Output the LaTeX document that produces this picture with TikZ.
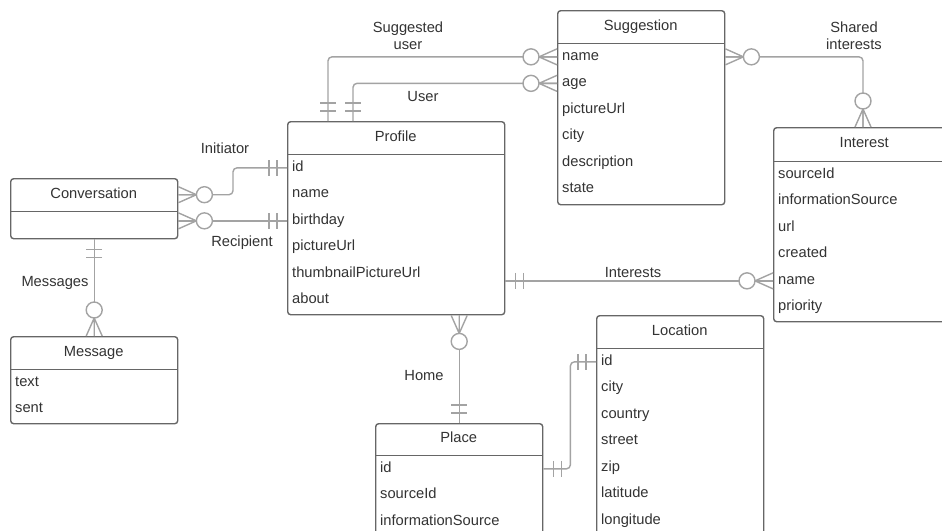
\documentclass[tikz,border=0pt]{standalone}
\usepackage{fontspec}
\setmainfont{Liberation Sans}
\usetikzlibrary{calc}
\definecolor{boxgray}{HTML}{666666}
\definecolor{linegray}{HTML}{A3A3A3}
\definecolor{txt}{HTML}{333333}
\newcommand\efont{\fontsize{14.7pt}{17.5pt}\selectfont}
\tikzset{
 ebox/.style={draw=boxgray, line width=1.4pt, rounded corners=3pt, fill=white, inner sep=0pt},
 eline/.style={draw=boxgray, line width=1.4pt},
 etitle/.style={inner xsep=5pt, inner ysep=0pt, align=center, text=txt, font=\efont, text height=10.5pt, text depth=3.5pt},
 eattr/.style={inner xsep=5pt, inner ysep=0pt, align=left, text=txt, font=\efont, text height=10.5pt, text depth=3.5pt, minimum height=26.5pt},
 conn/.style={draw=linegray, line width=1.4pt, rounded corners=4pt},
 lbl/.style={inner sep=0pt, text=txt, font=\efont, align=center},
}
\newcommand\entity[7]{%
  \pgfmathsetlengthmacro\etw{#3pt-10pt}%
  \node[ebox, minimum width=#3pt, minimum height=#4pt, anchor=north west] (#1) at #2 {};
  \node[etitle, text width=\etw, minimum height=#5pt, anchor=north west] (#1-h) at (#1.north west) {#6};
  \draw[eline] (#1-h.south west) -- (#1-h.south east);
  \foreach \ea [count=\ei] in {#7} {%
    \node[eattr, text width=\etw, anchor=north west] (#1-\ei) at ([yshift=-(\ei-1)*26.5pt]#1-h.south west) {\ea};
  }%
}
\newcommand\crowzero[2]{%
  \begin{scope}[shift={#1}, rotate=#2]
    \draw[conn] (18,0) -- (0,8) (18,0) -- (0,0) (18,0) -- (0,-8);
    \draw[conn, fill=white] (26,0) circle[radius=8pt];
  \end{scope}}
\newcommand\barone[2]{%
  \begin{scope}[shift={#1}, rotate=#2]
    \draw[conn] (10,-8) -- (10,8) (18,-8) -- (18,8);
  \end{scope}}
\begin{document}
\begin{tikzpicture}[x=1pt,y=-1pt]
\useasboundingbox (0,0) rectangle (942,530);
\clip (0,0) rectangle (942,530);
\fill[white] (0,0) rectangle (942,530);

% entities
\entity{sugg}{(557,10)}{167}{194}{33}{Suggestion}{name,age,pictureUrl,city,description,state}
\entity{profile}{(287,121)}{217}{193}{33}{Profile}{id,name,birthday,pictureUrl,thumbnailPictureUrl,about}
\entity{msg}{(10,336)}{167}{87}{33}{Message}{text,sent}
\entity{interest}{(773,127)}{182}{194}{34}{Interest}{sourceId,informationSource,url,created,name,priority}
\entity{location}{(596,315)}{167}{240}{33}{Location}{id,city,country,street,zip,latitude,longitude}
\entity{place}{(375,423)}{167}{150}{32}{Place}{id,sourceId,informationSource}
\node[ebox, minimum width=167pt, minimum height=60pt, anchor=north west] (conv) at (10,178) {};
\node[etitle, text width=157pt, minimum height=33pt, anchor=north west] (conv-h) at (conv.north west) {Conversation};
\draw[eline] (conv-h.south west) -- (conv-h.south east);

% Suggested user
\draw[conn] ([xshift=41pt]profile.north west) |- (sugg.west |- sugg-1);
\barone{([xshift=41pt]profile.north west)}{90}
\crowzero{(sugg.west |- sugg-1)}{180}
% User
\draw[conn] ([xshift=66pt]profile.north west) |- (sugg.west |- sugg-2);
\barone{([xshift=66pt]profile.north west)}{90}
\crowzero{(sugg.west |- sugg-2)}{180}
% Shared interests
\draw[conn] (sugg.east |- sugg-1) -| ([xshift=90pt]interest.north west);
\crowzero{(sugg.east |- sugg-1)}{0}
\crowzero{([xshift=90pt]interest.north west)}{90}
% Initiator
\draw[conn] (profile.west |- profile-1) -- ++(-54pt,0) |- (conv.east |- conv-h);
\barone{(profile.west |- profile-1)}{180}
\crowzero{(conv.east |- conv-h)}{0}
% Recipient
\draw[conn] (profile.west |- profile-3) -- (conv.east |- profile-3);
\barone{(profile.west |- profile-3)}{180}
\crowzero{(conv.east |- profile-3)}{0}
% Messages
\draw[conn] (conv.south) -- (msg.north);
\barone{(conv.south)}{270}
\crowzero{(msg.north)}{90}
% Interests
\draw[conn] (profile.east |- interest-5) -- (interest.west |- interest-5);
\barone{(profile.east |- interest-5)}{0}
\crowzero{(interest.west |- interest-5)}{180}
% Home
\draw[conn] (profile.south -| place.north) -- (place.north);
\crowzero{(profile.south -| place.north)}{270}
\barone{(place.north)}{90}
% Place - Location
\draw[conn] (place.east |- place-1) -- ++(27pt,0) |- (location.west |- location-1);
\barone{(place.east |- place-1)}{0}
\barone{(location.west |- location-1)}{180}

% labels
\node[lbl, anchor=south] (lsu) at (408,50) {Suggested\\user};
\node[lbl, anchor=base] (luser) at (423,101.5) {User};
\node[lbl, anchor=south] (lshared) at (854,50) {Shared\\interests};
\node[lbl, anchor=base] (linit) at (225,153) {Initiator};
\node[lbl, anchor=base] (lrec) at (242,246.5) {Recipient};
\node[lbl, anchor=base] (lmsg) at (55,286) {Messages};
\node[lbl, anchor=base] (lint) at (633,277.5) {Interests};
\node[lbl, anchor=base] (lhome) at (424,380) {Home};
\end{tikzpicture}
\end{document}
